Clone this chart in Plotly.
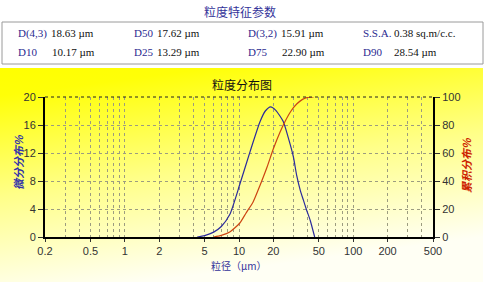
import base64
import plotly.graph_objects as go

# ---- data ----
diff_size = [4.3, 5, 6, 7, 8.3, 10.2, 12.5, 15.3, 17, 18.9, 21, 24.4, 27, 29.9, 32, 34.5, 36.6, 39, 42, 46]
diff_vals = [0, 0.2, 0.7, 1.5, 3.2, 7.6, 12.2, 16.5, 18.0, 18.6, 18.1, 16.5, 14.2, 11.5, 8.8, 6.6, 5.3, 3.9, 2.4, 0]

cum_size = [6, 7, 8.3, 10.17, 11.5, 13.29, 15.3, 17.62, 20, 22.9, 25.5, 28.54, 32, 36, 40, 45]
cum_vals = [0, 1.2, 3.6, 10, 17, 25, 37, 50, 63, 75, 83, 90, 95, 98.3, 99.7, 100]

x_labels = [0.2, 0.5, 1, 2, 5, 10, 20, 50, 100, 200, 500]
x_minor = [0.3, 0.4, 0.6, 0.7, 0.8, 0.9, 3, 4, 6, 7, 8, 9, 30, 40, 60, 70, 80, 90, 300, 400]

param_row1_labels = ["D(4,3)", "D50", "D(3,2)", "S.S.A."]
param_row1_values = ["18.63 µm", "17.62 µm", "15.91 µm", "0.38 sq.m/c.c."]
param_row2_labels = ["D10", "D25", "D75", "D90"]
param_row2_values = ["10.17 µm", "13.29 µm", "22.90 µm", "28.54 µm"]

W, H = 489, 282
L, R, T, B = 45, 433, 97, 237


def px(x):
    return (x - L) / (R - L)


def py(y):
    return (B - y) / (B - T)


fig = go.Figure()
fig.add_trace(go.Scatter(x=diff_size, y=diff_vals, mode="lines",
                         line=dict(color="#2b2b9c", width=1.2, shape="spline", smoothing=0.6),
                         yaxis="y", showlegend=False, hoverinfo="skip"))
fig.add_trace(go.Scatter(x=cum_size, y=cum_vals, mode="lines",
                         line=dict(color="#cc4411", width=1.2, shape="spline", smoothing=0.6),
                         yaxis="y2", showlegend=False, hoverinfo="skip"))

tickfont = dict(family="Liberation Sans, Arial", size=11, color="#333333")
grid = dict(gridcolor="#9c9c80", griddash="3px,3px", gridwidth=1)

svg = ("<svg xmlns='http://www.w3.org/2000/svg' width='483' height='214' preserveAspectRatio='none'>"
       "<defs><linearGradient id='g' x1='0' y1='0' x2='0.3' y2='1'>"
       "<stop offset='0' stop-color='#ffff00'/>"
       "<stop offset='0.12' stop-color='#ffff08'/>"
       "<stop offset='0.55' stop-color='#ffff88'/>"
       "<stop offset='1' stop-color='#fffff4'/>"
       "</linearGradient></defs>"
       "<rect width='483' height='214' fill='url(#g)'/></svg>")
src = "data:image/svg+xml;base64," + base64.b64encode(svg.encode()).decode()


def ann(text, x, y, font, xanchor="center", angle=0):
    return dict(text=text, x=px(x), y=py(y), xref="paper", yref="paper", xanchor=xanchor,
                yanchor="middle", textangle=angle, showarrow=False, font=font)


cjk = "Noto Sans CJK SC"
anns = [
    ann("粒度特征参数", 240, 12, dict(family=cjk, size=12, color="#33339a")),
    ann("粒度分布图", 242, 84, dict(family=cjk, size=12, color="#111111")),
    ann("粒径（µm）", 239, 265, dict(family=cjk, size=10, color="#33339a")),
    ann("<i><b>微分分布%</b></i>", 18, 162, dict(family=cjk, size=11, color="#3333aa"), angle=-90),
    ann("<i><b>累积分布%</b></i>", 466, 165, dict(family=cjk, size=11, color="#cc2200"), angle=-90),
]

col_lab = [16, 132, 246, 361]
col_val = [49, 155, 279, 392]
col_val2 = [50, 155, 280, 392]
serif = "Liberation Serif, Times New Roman"
lab_font = dict(family=serif, size=11, color="#2a2a90")
val_font = dict(family=serif, size=11, color="#111111")
for i in range(4):
    anns.append(ann(param_row1_labels[i], col_lab[i], 33, lab_font, "left"))
    anns.append(ann(param_row1_values[i], col_val[i], 33, val_font, "left"))
    anns.append(ann(param_row2_labels[i], col_lab[i], 52, lab_font, "left"))
    anns.append(ann(param_row2_values[i], col_val2[i], 52, val_font, "left"))

fig.update_layout(
    width=W, height=H,
    margin=dict(l=L, r=W - R, t=T, b=H - B),
    paper_bgcolor="white",
    plot_bgcolor="rgba(0,0,0,0)",
    xaxis=dict(type="log", range=[-0.69897, 2.69897], tickmode="array", tickvals=x_labels,
               ticktext=[str(v) for v in x_labels], tickfont=tickfont, ticks="outside", ticklen=3,
               tickcolor="#333", showline=True, linecolor="black", linewidth=2, showgrid=True,
               minor=dict(tickmode="array", tickvals=x_minor, showgrid=True, ticks="", **grid),
               zeroline=False, **grid),
    yaxis=dict(range=[0, 20], tickvals=[0, 4, 8, 12, 16, 20], tickfont=tickfont, ticks="outside",
               ticklen=5, tickcolor="#333", showline=True, linecolor="black", linewidth=2,
               zeroline=False, showgrid=True, **grid),
    yaxis2=dict(range=[0, 100], tickvals=[0, 20, 40, 60, 80, 100], overlaying="y", side="right",
                tickfont=tickfont, ticks="outside", ticklen=5, tickcolor="#333", showline=True,
                linecolor="black", linewidth=2, showgrid=False, zeroline=False),
    images=[dict(source=src, xref="paper", yref="paper", x=px(0), y=py(68),
                 sizex=483 / (R - L), sizey=(282 - 68) / (B - T), sizing="stretch",
                 xanchor="left", yanchor="top", layer="below")],
    shapes=[
        dict(type="rect", xref="paper", yref="paper", x0=px(2), x1=px(483), y0=py(22), y1=py(64),
             line=dict(color="#9a9a9a", width=1), fillcolor="rgba(0,0,0,0)"),
        dict(type="line", xref="paper", yref="paper", x0=0, x1=1, y0=1, y1=1,
             line=dict(color="#222222", width=1, dash="3px,3px")),
    ],
    annotations=anns,
)

fig.write_html("out.html")
